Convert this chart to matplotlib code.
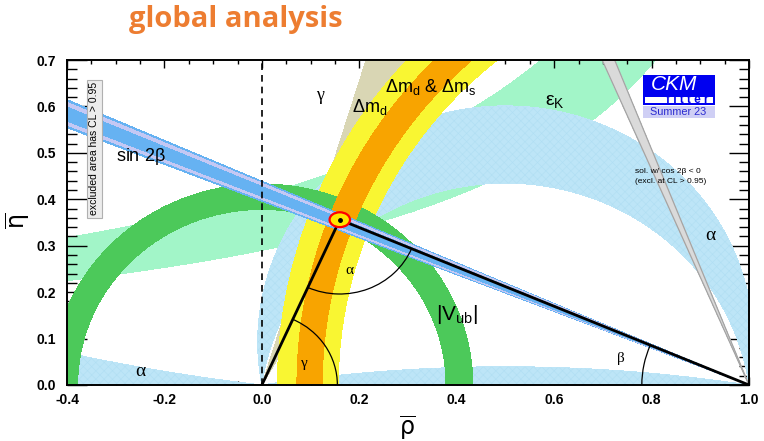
import numpy as np
import matplotlib
import matplotlib.pyplot as plt
from matplotlib.patches import Ellipse, Arc, Rectangle
from matplotlib.ticker import MultipleLocator, FormatStrFormatter

plt.rcParams['axes.unicode_minus'] = False
plt.rcParams['mathtext.default'] = 'regular'
plt.rcParams['hatch.color'] = '#b0def3'
plt.rcParams['hatch.linewidth'] = 0.4

# ---- constraint ranges ----
fit_rho, fit_eta = 0.160, 0.356          # global fit apex
fit_sig = (0.021, 0.016)                  # half axes of the CL contour

alpha_band = [79.5, 98.0]                 # deg, upper solution
alpha_low = [7.0, 171.0]                  # deg, alpha < 7 or alpha > 171
gamma_band = [60.0, 73.0]                 # deg
sin2b_outer = [21.6, 23.7]                # beta, deg
sin2b_mid = [21.8, 23.5]
sin2b_core = [22.1, 23.15]
cos2b_neg = [66.7, 68.5]                  # beta, second solution
vub_band = [0.378, 0.433]                 # radius around (0,0)
dmd_band = [0.843, 0.968]                 # radius around (1,0)
dms_band = [0.876, 0.928]
vtd_aspect = 1.05
epsk_band = [0.40, 0.565]                 # eta*(pole-rho)
epsk_pole = 1.38

x_ticks = [-0.4, -0.2, 0.0, 0.2, 0.4, 0.6, 0.8, 1.0]
y_ticks = [0.0, 0.1, 0.2, 0.3, 0.4, 0.5, 0.6, 0.7]

col_alpha = '#bde5f7'
col_epsk = '#a2f5c8'
col_vub = '#4cc95a'
col_dmd = '#f9f632'
col_dms = '#f8a400'
col_gamma = '#d9d6b4'
col_s2b = '#66b2f2'
col_s2b_l = '#c4c8f4'


def main():
    fig = plt.figure(figsize=(7.64, 4.41), dpi=100)
    ax = fig.add_axes([67/764, 56/441, 682/764, 325/441])

    rho = np.linspace(-0.42, 1.02, 1441)
    eta = np.linspace(0.0, 0.72, 721)
    R, E = np.meshgrid(rho, eta)
    gam = np.degrees(np.arctan2(E, R))
    bet = np.degrees(np.arctan2(E, 1 - R))
    alp = 180 - bet - gam
    rub = np.hypot(R, E)
    rtd = np.hypot(1 - R, E/vtd_aspect)
    epk = E*(epsk_pole - R)

    # ================= bands ================= #
    ax.contourf(R, E, epk, levels=epsk_band, colors=[col_epsk], zorder=1)
    ax.contourf(R, E, gam, levels=gamma_band, colors=[col_gamma], zorder=2)
    for lev in [alpha_band, [-1, alpha_low[0]], [alpha_low[1], 181]]:
        ax.contourf(R, E, alp, levels=lev, colors=[col_alpha], hatches=['xxxx'], zorder=3)
    ax.contourf(R, E, rtd, levels=dmd_band, colors=[col_dmd], zorder=4)
    ax.contourf(R, E, rub, levels=vub_band, colors=[col_vub], zorder=5)
    ax.contourf(R, E, rtd, levels=dms_band, colors=[col_dms], zorder=6)
    ax.contourf(R, E, bet, levels=sin2b_outer, colors=[col_s2b], zorder=7)
    ax.contourf(R, E, bet, levels=sin2b_mid, colors=[col_s2b_l], zorder=7)
    ax.contourf(R, E, bet, levels=sin2b_core, colors=[col_s2b], zorder=7)
    ax.contourf(R, E, bet, levels=cos2b_neg, colors=['#dadada'], zorder=7)
    ax.contour(R, E, bet, levels=cos2b_neg, colors=['#a4a4a4'], linewidths=0.9, zorder=7)

    ax.axvline(0.0, color='k', linestyle=(0, (4, 3)), linewidth=1.2, zorder=8)

    # ================= triangle ================= #
    ax.plot([0, fit_rho, 1], [0, fit_eta, 0], color='k', linewidth=2.0, zorder=10)
    g = np.degrees(np.arctan2(fit_eta, fit_rho))
    b = np.degrees(np.arctan2(fit_eta, 1 - fit_rho))
    ax.add_patch(Arc((0, 0), 0.31, 0.31, theta1=0, theta2=g, color='k', lw=0.9, zorder=10))
    ax.add_patch(Arc((1, 0), 0.44, 0.44, theta1=180 - b, theta2=180, color='k', lw=0.9, zorder=10))
    ax.add_patch(Arc((fit_rho, fit_eta), 0.32, 0.32, theta1=180 + g, theta2=360 - b,
                     color='k', lw=0.9, zorder=10))
    ax.add_patch(Ellipse((fit_rho, fit_eta), 2*fit_sig[0], 2*fit_sig[1], fc='#ffe600',
                         ec='red', lw=1.6, zorder=11))
    ax.plot(fit_rho, fit_eta, 'o', color='k', markersize=2.5, zorder=12)

    # ================= labels ================= #
    serif = 'Liberation Serif'
    sans = 'Liberation Sans'
    ax.text(0.119, 0.623, 'γ', fontsize=13, family=serif, ha='center', va='center', zorder=13)
    ax.text(0.185, 0.599, r'$\Delta m_d$', fontsize=13, family=sans, ha='left', va='center', zorder=13)
    ax.text(0.253, 0.642, r'$\Delta m_d$ & $\Delta m_s$', fontsize=13, family=sans,
            ha='left', va='center', zorder=13)
    ax.text(0.581, 0.610, r'$\varepsilon_K$', fontsize=14, family=sans, ha='left', va='center', zorder=13)
    ax.text(-0.300, 0.492, r'sin 2$\beta$', fontsize=13, family=sans, ha='left', va='center', zorder=13)
    ax.text(0.40, 0.151, r'$|V_{ub}|$', fontsize=15, family=sans, ha='center', va='center', zorder=13)
    ax.text(0.92, 0.321, 'α', fontsize=14, family=serif, ha='center', va='center', zorder=13)
    ax.text(-0.25, 0.028, 'α', fontsize=14, family=serif, ha='center', va='center', zorder=13)
    ax.text(0.179, 0.246, 'α', fontsize=11, family=serif, ha='center', va='center', zorder=13)
    ax.text(0.088, 0.047, 'γ', fontsize=11, family=serif, ha='center', va='center', zorder=13)
    ax.text(0.737, 0.058, 'β', fontsize=11, family=serif, ha='center', va='center', zorder=13)
    ax.text(0.766, 0.460, 'sol. w/ cos 2β < 0', fontsize=6, family=sans, ha='left', va='center', zorder=13)
    ax.text(0.766, 0.439, '(excl. at CL > 0.95)', fontsize=6, family=sans, ha='left', va='center', zorder=13)
    ax.text(-0.344, 0.509, 'excluded area has CL > 0.95', fontsize=7.5, family=sans, rotation=90,
            ha='center', va='center', zorder=13,
            bbox=dict(boxstyle='square,pad=0.25', fc='#ececec', ec='#b0b0b0', lw=0.8))

    # CKMfitter logo
    tr = ax.transAxes
    ax.add_patch(Rectangle((0.8442, 0.8615), 0.106, 0.0923, fc='#0000f0', ec='none',
                           transform=tr, zorder=14))
    ax.add_patch(Rectangle((0.8475, 0.8668), 0.1001, 0.0203, fc='white', ec='none',
                           transform=tr, zorder=15))
    ax.add_patch(Rectangle((0.8442, 0.8215), 0.106, 0.0357, fc='#cfcff5', ec='none',
                           transform=tr, zorder=14))
    ax.text(0.890, 0.9246, 'CKM', color='white', fontsize=15, style='italic', family=sans,
            ha='center', va='center', transform=tr, zorder=16)
    ax.text(0.9098, 0.869, 'f i t t e r', color='#0000f0', fontsize=8.5, fontweight='bold',
            family=sans, ha='center', va='baseline', transform=tr, zorder=16)
    ax.text(0.896, 0.839, 'Summer 23', color='#2a2ad0', fontsize=7.8, family=sans,
            ha='center', va='center', transform=tr, zorder=16)

    # ================= axes ================= #
    ax.set_xlim(-0.4, 1.0)
    ax.set_ylim(0.0, 0.7)
    ax.set_xticks(x_ticks)
    ax.set_yticks(y_ticks)
    ax.xaxis.set_minor_locator(MultipleLocator(0.05))
    ax.yaxis.set_minor_locator(MultipleLocator(0.02))
    ax.xaxis.set_major_formatter(FormatStrFormatter('%.1f'))
    ax.yaxis.set_major_formatter(FormatStrFormatter('%.1f'))
    ax.tick_params(which='both', direction='in', top=True, right=True, width=1.0, zorder=20)
    ax.tick_params(axis='x', which='major', length=5.8, pad=6)
    ax.tick_params(axis='x', which='minor', length=2.9)
    ax.tick_params(axis='y', which='major', length=14.4, pad=8)
    ax.tick_params(axis='y', which='minor', length=7.2)
    for lab in ax.get_xticklabels() + ax.get_yticklabels():
        lab.set_fontweight('bold')
        lab.set_family(sans)
        lab.set_fontsize(10)
    for sp in ax.spines.values():
        sp.set_linewidth(1.4)
        sp.set_zorder(20)

    fig.text(0.534, 0.030, r'$\overline{\rho}$', fontsize=17, ha='center', va='center')
    fig.text(0.024, 0.500, r'$\overline{\eta}$', fontsize=17, rotation=90, ha='center', va='center')
    fig.text(0.309, 0.955, 'global analysis', color='#ED7D31', fontsize=21, fontweight='bold',
             family='Open Sans', ha='center', va='center')

    fig.savefig('out.png', dpi=100)


if __name__ == '__main__':
    main()
